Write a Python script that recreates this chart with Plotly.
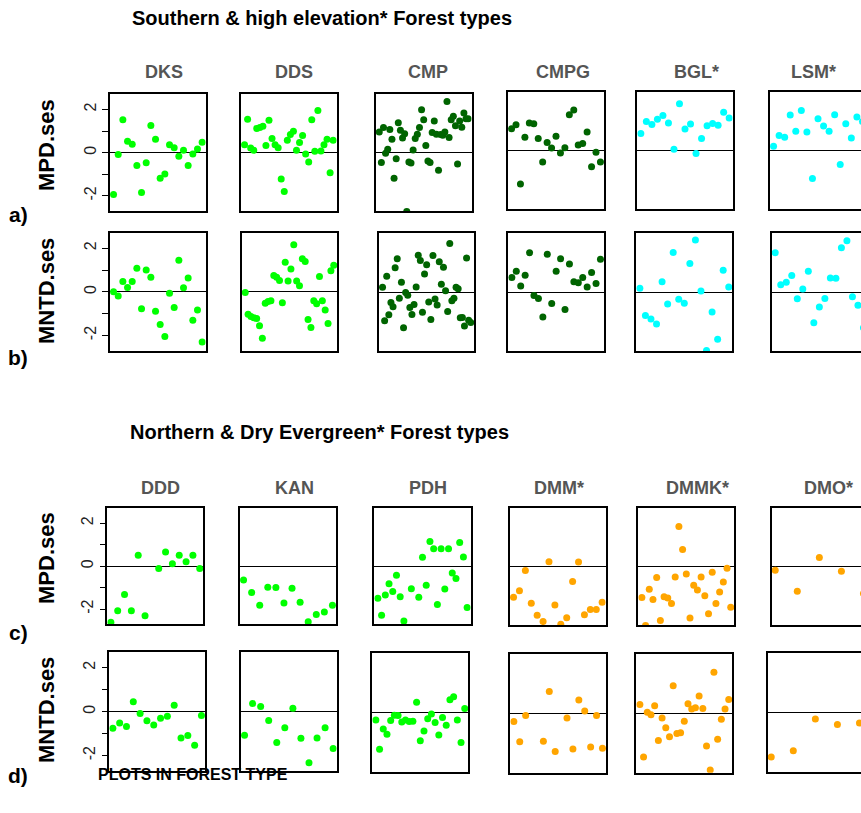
import plotly.graph_objects as go

W, H = 861, 813

# ---------------- data ----------------
south_types = ["DKS", "DDS", "CMP", "CMPG", "BGL*", "LSM*"]
north_types = ["DDD", "KAN", "PDH", "DMM*", "DMMK*", "DMO*"]
south_colors = ["#00FF00", "#00FF00", "#006400", "#006400", "#00FFFF", "#00FFFF"]
north_colors = ["#00FF00", "#00FF00", "#00FF00", "#FFA500", "#FFA500", "#FFA500"]
row_metrics = ["MPD.ses", "MNTD.ses", "MPD.ses", "MNTD.ses"]
row_letters = ["a)", "b)", "c)", "d)"]
ytick_vals = [-2, -1, 0, 1, 2]
ytick_text = ["-2", "", "0", "", "2"]

# Row a: MPD.ses, southern types
mpd_dks = [-1.94, -0.09, 1.52, 0.53, 0.39, -0.60, -1.84, -0.47, 1.26, 0.62, -1.19, -0.99, 0.37, 0.23, -0.17, 0.11, -0.59, -0.06, 0.17, 0.48]
mpd_dds = [0.37, 1.55, 0.22, 0.11, 1.12, 1.16, 1.22, 0.33, 1.50, 0.65, 0.37, 0.23, -1.22, -1.80, 0.57, 0.84, 0.99, 0.11, 0.47, 0.79, -0.06, -0.43, 1.52, 0.06, 1.95, 0.08, 0.37, 0.62, -0.93, 0.57]
mpd_cmp = [0.95, -0.45, 1.16, -0.03, 0.16, 1.07, 0.62, -1.19, -0.28, 1.38, 1.04, 0.68, 0.87, -2.72, -0.43, -0.48, 0.12, 0.65, 0.85, 1.16, 1.98, 1.52, 0.33, -0.39, -0.45, 0.93, 1.47, 0.85, -0.82, 0.84, 0.81, 0.96, 2.37, 0.70, 1.52, 1.69, 1.24, -0.53, 1.46, 1.18, 1.83, 1.57, 1.57]
mpd_cmpg = [0.99, 1.18, -1.55, 0.60, 1.26, 1.22, 0.54, -0.54, 0.36, 0.11, 0.65, -0.12, 0.12, 1.64, 1.86, 0.25, 0.31, 0.84, -0.76, -0.09, -0.54]
mpd_bgl = [0.78, 1.33, 1.19, 1.43, 1.60, 1.26, 0.05, 2.14, 0.98, 1.21, -0.14, 0.54, 1.13, 1.24, 1.15, 1.75, 1.49]
mpd_lsm = [0.19, 0.68, 0.60, 1.63, 0.88, 1.84, 0.84, -1.30, 1.46, 1.12, 0.88, 1.64, -0.65, 1.22, 0.57, 1.53, 1.33]

# Row b: MNTD.ses, southern types
mntd_dks = [0.0, -0.19, 0.48, 0.20, 0.48, 1.08, -0.78, 1.0, 0.67, -0.89, -1.5, -2.05, -0.06, -0.72, 1.45, 0.19, 0.64, -1.30, -0.83, -2.30]
mntd_dds = [-0.03, -1.03, -1.13, -1.19, -1.22, -1.55, -2.13, -0.52, -0.44, -0.41, 0.75, 0.67, 0.52, -0.50, 1.36, 0.50, 1.05, 2.16, 0.50, 0.28, 1.52, 1.39, -1.27, -1.63, -0.41, -0.55, 0.70, -0.41, -0.83, -1.45, 0.97, 1.22]
mntd_cmp = [0.22, -1.30, 0.73, -1.03, -0.47, -0.67, 1.11, 1.53, -0.28, 0.45, -1.63, -0.02, -0.14, -0.70, -1.02, -0.56, 0.23, 1.69, 1.44, -0.92, 0.83, 1.25, -0.45, -1.25, 1.67, -0.31, -0.59, 1.39, 0.36, 1.14, 0.06, -0.88, 2.22, -0.39, -0.28, 0.22, 0.16, -1.17, -1.16, -1.55, 1.56, -1.28, -1.39]
mntd_cmpg = [0.66, 0.95, 0.27, 0.77, 1.80, -0.16, -0.30, -1.14, 1.73, -0.53, 0.95, 1.52, -0.80, 1.28, 0.47, 0.42, 0.66, 0.23, 0.89, 0.39, 1.50]
mntd_bgl = [0.17, -1.08, -1.23, -1.47, 0.47, -0.55, 1.81, -0.33, -0.52, 1.30, 2.38, 0.05, -2.68, -0.92, -2.16, 1.0, 0.23]
mntd_lsm = [1.80, 0.33, 0.45, 0.75, -0.31, 0.14, 0.95, -1.41, -0.69, -0.30, 0.64, 0.63, 2.02, 2.34, -0.22, -0.61, -1.64]

# Row c: MPD.ses, northern types (None = value outside the plotted range)
mpd_ddd = [-2.62, -2.08, -1.32, -2.08, 0.51, -2.31, None, -0.11, 0.66, 0.11, 0.51, 0.20, 0.51, -0.11]
mpd_kan = [-0.65, -1.23, -1.82, -0.98, -1.0, -1.72, -1.03, -1.68, -2.6, -2.26, -2.14, -1.82]
mpd_pdh = [-1.49, -2.28, -1.34, -0.82, -1.18, -0.43, -1.42, -2.55, None, -1.05, None, -1.45, 0.40, -0.89, 1.14, 0.80, -1.78, 0.80, -1.06, 0.80, -0.32, -0.58, 1.09, 0.42, -1.92]
mpd_dmm = [-1.42, -1.12, -0.18, -1.69, -2.25, -2.54, 0.23, -1.77, -2.66, -2.37, -0.69, 0.22, -2.23, -1.98, -1.98, -1.65]
mpd_dmmk = [-1.43, -2.72, -1.05, -1.52, -0.51, -2.49, -1.40, -1.45, -1.71, -0.48, 1.85, 0.78, -0.35, -2.38, -0.86, -1.09, -0.49, -1.35, -2.18, -0.26, -1.71, -1.18, -0.71, -0.08, -1.88]
mpd_dmo = [-0.17, -1.14, 0.42, -0.22, -1.25]

# Row d: MNTD.ses, northern types
mntd_ddd = [-0.76, -0.52, -0.67, 0.45, -0.08, -0.41, -0.61, -0.30, -0.21, 0.29, -1.20, -1.09, -1.53, -0.18]
mntd_kan = [-1.08, 0.36, 0.23, -0.41, -1.41, -0.74, 0.15, -1.21, -2.32, -1.20, -0.74, -1.68]
mntd_pdh = [-0.35, -1.68, -0.76, -1.0, -0.38, -0.14, -0.15, -0.44, -0.35, -0.42, -0.41, 0.45, -1.29, -0.85, -0.30, -0.08, -0.47, -1.03, -0.24, -0.59, 0.56, 0.70, -0.35, -1.38, 0.17]
mntd_dmm = [-0.36, -1.29, -0.09, None, None, -1.26, 1.0, -1.73, None, -0.20, -1.62, 0.62, 0.11, -1.53, -0.09, -1.58]
mntd_dmmk = [0.41, -1.98, 0.06, -0.06, 0.35, -1.23, -0.20, -0.65, -1.06, 1.27, -0.91, -0.88, -0.35, 0.45, 0.20, 0.26, 0.80, 0.23, -1.48, -2.58, 1.88, -1.18, -0.26, 0.20, 0.64]
mntd_dmo = [-2.03, -1.74, -0.30, -0.55, -0.48]

rows_data = [
    [mpd_dks, mpd_dds, mpd_cmp, mpd_cmpg, mpd_bgl, mpd_lsm],
    [mntd_dks, mntd_dds, mntd_cmp, mntd_cmpg, mntd_bgl, mntd_lsm],
    [mpd_ddd, mpd_kan, mpd_pdh, mpd_dmm, mpd_dmmk, mpd_dmo],
    [mntd_ddd, mntd_kan, mntd_pdh, mntd_dmm, mntd_dmmk, mntd_dmo],
]
rows_colors = [south_colors, south_colors, north_colors, north_colors]

# ---------------- layout geometry (pixels) ----------------
# panel boxes: (left, right, top, bottom)
boxes = [
    [(110, 205.7, 94.3, 211), (241, 336.7, 94.3, 211), (375.7, 471.7, 94.3, 211),
     (508, 604, 91.7, 209), (637.3, 732.7, 91.7, 209), (770, 866, 91.7, 209)],
    [(110, 205.7, 233, 350.7), (241.7, 337.3, 233, 350.7), (379, 474.3, 233, 351.3),
     (508.3, 604, 233, 351), (636.3, 732.3, 233, 351), (771.7, 867, 233, 351)],
    [(107.3, 203.3, 508.3, 624), (240, 336, 508.3, 624), (374.3, 470.7, 507.7, 624.3),
     (510, 605.7, 508.3, 625), (638.3, 734.3, 508, 625), (771.7, 867, 508, 625)],
    [(109.3, 205, 652.3, 771), (241, 336.7, 652, 771), (372.3, 468.3, 652.7, 771.7),
     (510.3, 606, 654.3, 772.7), (636.3, 732.3, 654.3, 772.7), (767.7, 863, 653.3, 771.7)],
]
YR = [-2.7, 2.7]
FONT = "Liberation Sans, Arial, Helvetica, sans-serif"


def px_x(v):
    return v / W


def px_y(v):
    return 1 - v / H


fig = go.Figure()
layout = dict(
    width=W, height=H, margin=dict(l=0, r=0, t=0, b=0),
    paper_bgcolor="white", plot_bgcolor="white", showlegend=False,
    font=dict(family=FONT, color="black"),
)

k = 0
for r in range(4):
    for c in range(6):
        k += 1
        vals = rows_data[r][c]
        n = len(vals)
        xs = list(range(1, n + 1))
        pad = 0.04 * (n - 1)
        x0, x1 = 1 - pad, n + pad
        left, right, top, bottom = boxes[r][c]
        clipped = right > W
        if clipped:
            frac = (W - left) / (right - left)
            x1 = x0 + (x1 - x0) * frac
            right = W
        xa = f"xaxis{k}" if k > 1 else "xaxis"
        ya = f"yaxis{k}" if k > 1 else "yaxis"
        fig.add_trace(go.Scatter(
            x=xs, y=vals, mode="markers", xaxis=f"x{k}", yaxis=f"y{k}",
            marker=dict(size=7, color=rows_colors[r][c], line=dict(width=0)),
            hoverinfo="skip",
        ))
        layout[xa] = dict(
            domain=[px_x(left), min(1, px_x(right))], range=[x0, x1], anchor=f"y{k}",
            showgrid=False, zeroline=False, showticklabels=False, ticks="",
            showline=True, mirror=True, linecolor="black", linewidth=1.5,
        )
        ydict = dict(
            domain=[px_y(bottom), px_y(top)], range=YR, anchor=f"x{k}",
            showgrid=False, zeroline=True, zerolinecolor="black", zerolinewidth=1.3,
            showline=True, mirror=(not clipped), linecolor="black", linewidth=1.5,
        )
        if c == 0:
            ydict.update(
                tickvals=ytick_vals, ticktext=ytick_text, ticks="outside", ticklen=6,
                tickwidth=1, tickcolor="black", tickangle=-90,
                tickfont=dict(size=16, family=FONT, color="#222222"), showticklabels=True,
            )
        else:
            ydict.update(showticklabels=False, ticks="")
        layout[ya] = ydict

fig.update_layout(**layout)

ann = []
# section titles
ann.append(dict(text="<b>Southern & high elevation* Forest types</b>", x=px_x(130), y=px_y(18),
                xanchor="left", yanchor="middle", font=dict(size=20, family=FONT, color="black")))
ann.append(dict(text="<b>Northern & Dry Evergreen* Forest types</b>", x=px_x(128), y=px_y(432),
                xanchor="left", yanchor="middle", font=dict(size=20, family=FONT, color="black")))
# column headers
south_centers = [164, 294, 428, 563, 696, 813]
north_centers = [160, 294, 428, 559, 697, 828]
for name, cx in zip(south_types, south_centers):
    ann.append(dict(text=f"<b>{name}</b>", x=px_x(cx), y=px_y(72), xanchor="center", yanchor="middle",
                    font=dict(size=18, family=FONT, color="#555555")))
for name, cx in zip(north_types, north_centers):
    ann.append(dict(text=f"<b>{name}</b>", x=px_x(cx), y=px_y(488), xanchor="center", yanchor="middle",
                    font=dict(size=18, family=FONT, color="#555555")))
# row metric labels and letters
label_y = [145, 291, 558, 710]
letter_y = [215, 357, 632, 775]
for i in range(4):
    ann.append(dict(text=f"<b>{row_metrics[i]}</b>", x=px_x(46), y=px_y(label_y[i]), textangle=-90,
                    xanchor="center", yanchor="middle", font=dict(size=22, family=FONT, color="black")))
    ann.append(dict(text=f"<b>{row_letters[i]}</b>", x=px_x(18), y=px_y(letter_y[i]),
                    xanchor="center", yanchor="middle", font=dict(size=21, family=FONT, color="black")))
ann.append(dict(text="<b>PLOTS IN FOREST TYPE</b>", x=px_x(96), y=px_y(774), xanchor="left", yanchor="middle",
                font=dict(size=16, family=FONT, color="black")))
for a in ann:
    a.update(xref="paper", yref="paper", showarrow=False)
fig.update_layout(annotations=ann)

fig.write_html(
    "out.html",
    config={"displayModeBar": False},
    post_script="document.body.style.margin='0';document.body.style.overflow='hidden';",
)
